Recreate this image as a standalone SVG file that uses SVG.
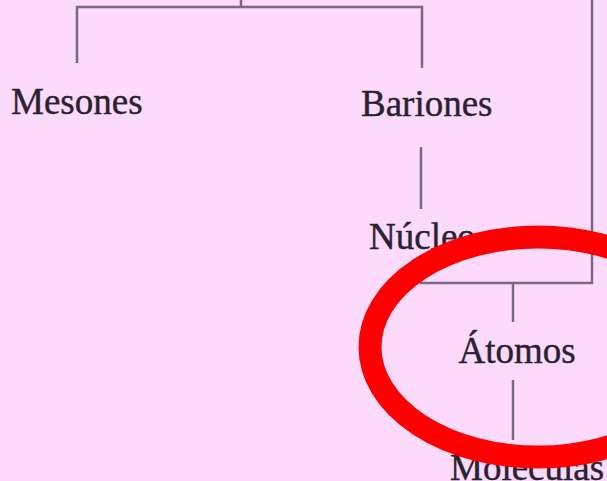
<svg xmlns="http://www.w3.org/2000/svg" width="607" height="481" viewBox="0 0 607 481">
  <style>
    .bg { fill: #fcdafc; }
    .conn { fill: none; stroke: #7a6782; stroke-width: 2.5; stroke-linecap: butt; stroke-linejoin: miter; }
    .lbl { font-family: "Liberation Serif", "Times New Roman", serif; font-size: 37px; fill: #2a2230; stroke: #2a2230; stroke-width: 0.4; }
    .mark { fill: none; stroke: #ff0000; stroke-width: 23; }
  </style>
  <rect class="bg" x="0" y="0" width="607" height="481"/>

  <g id="connectors">
    <path class="conn" d="M241,0 V7"/>
    <path class="conn" d="M77,63 V7 H422 V68"/>
    <path class="conn" d="M421,147 V209"/>
    <path class="conn" d="M592,0 V283 H421 V260"/>
    <path class="conn" d="M513,283 V322"/>
    <path class="conn" d="M513,380 V440"/>
  </g>

  <g id="mesones">
    <text class="lbl" x="11" y="114">Mesones</text>
  </g>
  <g id="bariones">
    <text class="lbl" x="361" y="116">Bariones</text>
  </g>
  <g id="nucleo">
    <text class="lbl" x="369" y="249">Núcleo</text>
  </g>
  <g id="atomos">
    <text class="lbl" x="517" y="363" text-anchor="middle">Átomos</text>
  </g>
  <g id="moleculas">
    <text class="lbl" x="450" y="480">Moléculas</text>
  </g>

  <g id="highlight">
    <ellipse class="mark" cx="538" cy="347" rx="168" ry="110"/>
  </g>
</svg>
